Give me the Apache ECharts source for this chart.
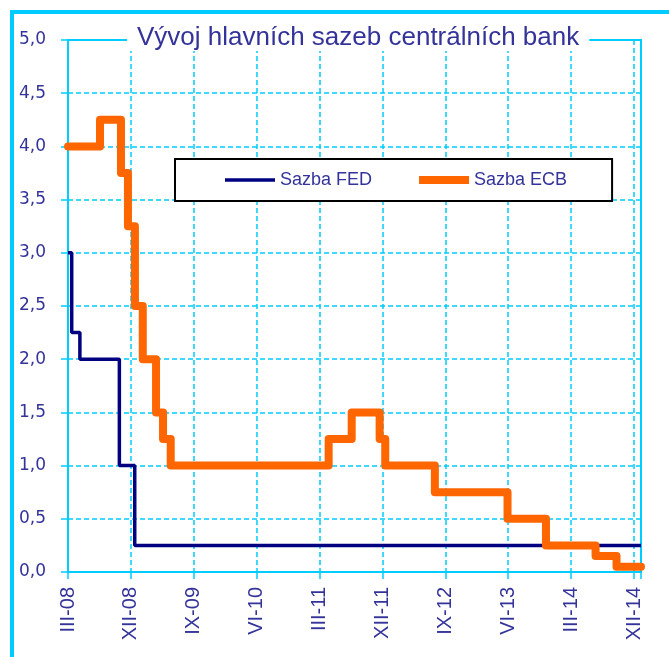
<!DOCTYPE html>
<html>
<head>
<meta charset="utf-8">
<script src="https://cdn.jsdelivr.net/npm/echarts@6/dist/echarts.min.js"></script>
<style>
  html, body { margin: 0; padding: 0; background: #fff; }
  #chart { width: 669px; height: 657px; }
</style>
</head>
<body>
<div id="chart"></div>
<script>
// x = months since March 2008, every 9 months one label
const xLabels = ['III-08', 'XII-08', 'IX-09', 'VI-10', 'III-11', 'XII-11', 'IX-12', 'VI-13', 'III-14', 'XII-14'];

// [month, rate] - rate in force from that month on
const fedRates = [
  [0, 3.0], [0.53, 2.25], [1.7, 2.0], [7.35, 1.0], [9.55, 0.25], [82, 0.25]
];
const ecbRates = [
  [0, 4.0], [4.58, 4.25], [7.58, 3.75], [8.58, 3.25], [9.58, 2.5], [10.7, 2.0],
  [12.6, 1.5], [13.6, 1.25], [14.7, 1.0], [37.3, 1.25], [40.6, 1.5], [44.6, 1.25],
  [45.4, 1.0], [52.5, 0.75], [62.9, 0.5], [68.4, 0.25], [75.5, 0.15], [78.5, 0.05], [82, 0.05]
];

const cyan = '#00CCFF';
const ink = '#333399';

const chart = echarts.init(document.getElementById('chart'));

chart.setOption({
  backgroundColor: '#fff',
  animation: false,
  title: {
    text: 'Vývoj hlavních sazeb centrálních bank',
    left: 127,
    top: 25,
    padding: [0, 10, 0, 10],
    backgroundColor: '#fff',
    textStyle: {
      fontFamily: 'Liberation Sans, Arial, sans-serif',
      fontSize: 26,
      fontWeight: 'normal',
      color: ink
    }
  },
  legend: {
    left: 175,
    top: 159,
    padding: [12, 45, 12, 50],
    itemGap: 47,
    itemWidth: 50,
    itemHeight: 18,
    backgroundColor: '#fff',
    borderColor: '#000',
    borderWidth: 2,
    textStyle: { fontFamily: 'Liberation Sans, Arial, sans-serif', fontSize: 18, color: ink },
    data: [
      { name: 'Sazba FED', icon: 'path://M0,0L50,0L50,3.5L0,3.5Z' },
      { name: 'Sazba ECB', icon: 'path://M0,0L50,0L50,8L0,8Z' }
    ]
  },
  graphic: [{
    type: 'rect',
    shape: { x: 12, y: 12, width: 700, height: 700 },
    style: { fill: 'none', stroke: cyan, lineWidth: 4 },
    silent: true
  }],
  grid: {
    left: 68, right: 28, top: 40, bottom: 85,
    show: true,
    borderColor: cyan,
    borderWidth: 2,
    containLabel: false
  },
  xAxis: {
    type: 'value',
    min: 0,
    max: 82,
    interval: 9,
    axisLine: { show: true, lineStyle: { color: cyan, width: 2 } },
    axisTick: { show: true, length: 7, lineStyle: { color: cyan, width: 1.5 } },
    splitLine: { show: true, lineStyle: { color: cyan, width: 1.5, type: [5, 3] } },
    axisLabel: {
      rotate: 90,
      margin: 15,
      fontFamily: 'Liberation Sans, Arial, sans-serif',
      fontSize: 20,
      color: ink,
      formatter: v => (v % 9 === 0 ? xLabels[v / 9] || '' : '')
    }
  },
  yAxis: {
    type: 'value',
    min: 0,
    max: 5,
    interval: 0.5,
    axisLine: { show: true, lineStyle: { color: cyan, width: 2 } },
    axisTick: { show: true, length: 7, lineStyle: { color: cyan, width: 1.5 } },
    splitLine: { show: true, lineStyle: { color: cyan, width: 1.5, type: [5, 3] } },
    axisLabel: {
      margin: 22,
      fontFamily: 'DejaVu Sans, sans-serif',
      fontSize: 17,
      color: ink,
      formatter: v => v.toFixed(1).replace('.', ',')
    }
  },
  series: [
    {
      name: 'Sazba FED',
      type: 'line',
      step: 'end',
      data: fedRates,
      showSymbol: false,
      symbol: 'none',
      itemStyle: { color: '#000080' },
      lineStyle: { color: '#000080', width: 3.5 }
    },
    {
      name: 'Sazba ECB',
      type: 'line',
      step: 'end',
      data: ecbRates,
      showSymbol: false,
      symbol: 'none',
      itemStyle: { color: '#FF6600' },
      lineStyle: { color: '#FF6600', width: 8, join: 'round', cap: 'round' }
    }
  ]
});
</script>
</body>
</html>
